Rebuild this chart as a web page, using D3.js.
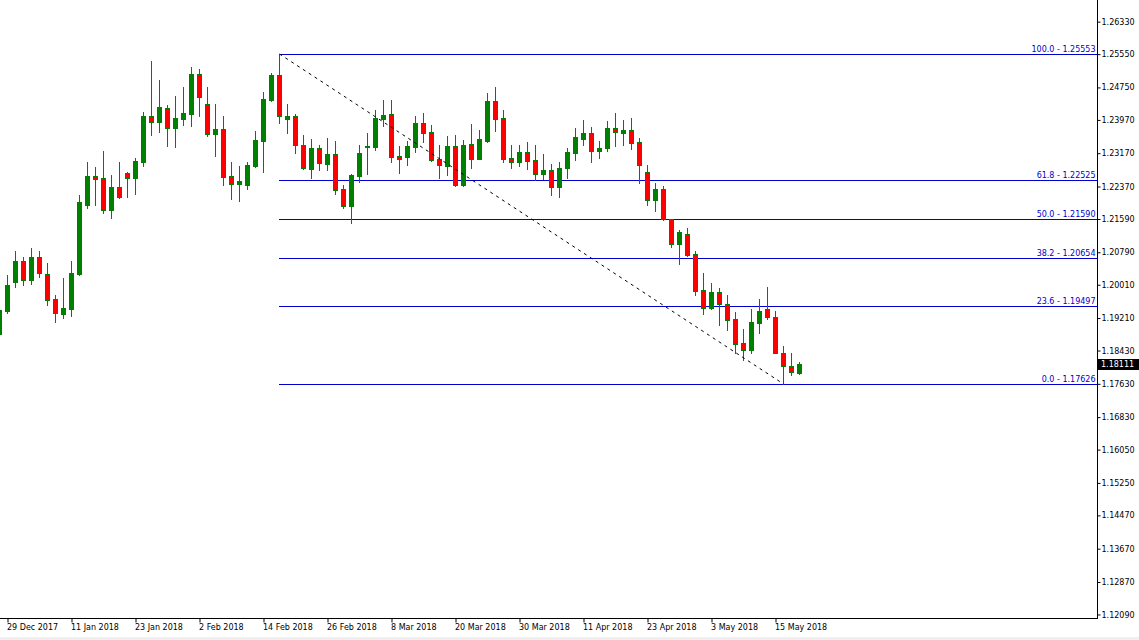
<!DOCTYPE html>
<html><head><meta charset="utf-8">
<script src="https://cdn.jsdelivr.net/npm/d3@7"></script>
<style>html,body{margin:0;padding:0;background:#fff;} svg{display:block;}</style>
</head><body>
<svg id="c" width="1139" height="640"></svg>
<script>
// ---- data ----
const dates = [
"2017-12-28","2017-12-29",
"2018-01-02","2018-01-03","2018-01-04","2018-01-05",
"2018-01-08","2018-01-09","2018-01-10","2018-01-11","2018-01-12",
"2018-01-15","2018-01-16","2018-01-17","2018-01-18","2018-01-19",
"2018-01-22","2018-01-23","2018-01-24","2018-01-25","2018-01-26",
"2018-01-29","2018-01-30","2018-01-31","2018-02-01","2018-02-02",
"2018-02-05","2018-02-06","2018-02-07","2018-02-08","2018-02-09",
"2018-02-12","2018-02-13","2018-02-14","2018-02-15","2018-02-16",
"2018-02-19","2018-02-20","2018-02-21","2018-02-22","2018-02-23",
"2018-02-26","2018-02-27","2018-02-28","2018-03-01","2018-03-02",
"2018-03-05","2018-03-06","2018-03-07","2018-03-08","2018-03-09",
"2018-03-12","2018-03-13","2018-03-14","2018-03-15","2018-03-16",
"2018-03-19","2018-03-20","2018-03-21","2018-03-22","2018-03-23",
"2018-03-26","2018-03-27","2018-03-28","2018-03-29","2018-03-30",
"2018-04-02","2018-04-03","2018-04-04","2018-04-05","2018-04-06",
"2018-04-09","2018-04-10","2018-04-11","2018-04-12","2018-04-13",
"2018-04-16","2018-04-17","2018-04-18","2018-04-19","2018-04-20",
"2018-04-23","2018-04-24","2018-04-25","2018-04-26","2018-04-27",
"2018-04-30","2018-05-01","2018-05-02","2018-05-03","2018-05-04",
"2018-05-07","2018-05-08","2018-05-09","2018-05-10","2018-05-11",
"2018-05-14","2018-05-15","2018-05-16","2018-05-17","2018-05-18"];

const open = [1.18827,1.19379,1.20076,1.20581,1.20124,1.20677,1.20268,1.19668,1.19307,1.19428,
1.20268,1.21926,1.22622,1.22574,1.21806,1.22358,1.22694,1.22574,1.22959,1.24064,
1.23919,1.24256,1.23775,1.23992,1.24112,1.25072,1.24352,1.23631,1.23751,1.22622,
1.22430,1.22406,1.22863,1.23463,1.24448,1.25048,1.23992,1.24064,1.23367,1.22790,
1.23295,1.22911,1.23151,1.22310,1.21902,1.22622,1.23319,1.23319,1.23992,1.24112,
1.23103,1.23079,1.23319,1.23895,1.23679,1.23031,1.22863,1.23343,1.22406,1.23391,
1.23031,1.23463,1.24424,1.24016,1.23055,1.22959,1.23199,1.23007,1.22670,1.22766,
1.22358,1.22814,1.23175,1.23511,1.23655,1.23223,1.23295,1.23775,1.23655,1.23727,
1.23439,1.22718,1.22046,1.22310,1.21589,1.20989,1.21229,1.20749,1.19884,1.19452,
1.19836,1.19548,1.19187,1.18611,1.18443,1.19091,1.19428,1.19235,1.18371,1.18058,
1.17890];

const high = [1.19452,1.20244,1.20821,1.20677,1.20893,1.20821,1.20532,1.19764,1.20172,1.20581,
1.22166,1.22959,1.22838,1.23223,1.22646,1.22959,1.22718,1.23055,1.24160,1.25385,
1.24933,1.24328,1.24544,1.24760,1.25241,1.25193,1.24760,1.24352,1.24064,1.22959,
1.22863,1.22959,1.23703,1.24640,1.25097,1.25553,1.24352,1.24112,1.23607,1.23511,
1.23367,1.23535,1.23463,1.22406,1.22660,1.23367,1.23655,1.24208,1.24448,1.24448,
1.23343,1.23463,1.24064,1.24136,1.23847,1.23367,1.23583,1.23607,1.23487,1.23871,
1.23727,1.24616,1.24760,1.24208,1.23367,1.23367,1.23439,1.23367,1.23151,1.22911,
1.22959,1.23295,1.23775,1.23967,1.23799,1.23463,1.23943,1.24136,1.23967,1.24016,
1.23535,1.22887,1.22454,1.22382,1.21600,1.21325,1.21373,1.20821,1.20292,1.20052,
1.19932,1.19764,1.19355,1.18947,1.19428,1.19668,1.19956,1.19379,1.18539,1.18371,
1.18154];

const low = [1.18779,1.19331,1.19956,1.20004,1.20028,1.20196,1.19524,1.19115,1.19211,1.19259,
1.20250,1.21854,1.21926,1.21734,1.21613,1.22100,1.22118,1.22190,1.22863,1.23607,
1.23679,1.23343,1.23319,1.23847,1.23823,1.24064,1.23583,1.23103,1.22406,1.22070,
1.22022,1.22310,1.22838,1.22718,1.24430,1.23895,1.23655,1.23175,1.22800,1.22574,
1.22766,1.22766,1.22190,1.21854,1.21493,1.22478,1.22670,1.23247,1.23823,1.22959,
1.22694,1.22887,1.23199,1.23439,1.22983,1.22574,1.22646,1.22382,1.22382,1.22814,
1.23020,1.23450,1.23703,1.22959,1.22814,1.22863,1.22790,1.22526,1.22550,1.22166,
1.22118,1.22574,1.23007,1.23367,1.22959,1.23055,1.23223,1.23343,1.23367,1.23271,
1.22454,1.21926,1.21782,1.21575,1.20917,1.20508,1.20710,1.19764,1.19307,1.19428,
1.19043,1.18923,1.18371,1.18202,1.18371,1.18851,1.19187,1.18360,1.17626,1.17842,
1.17866];

const close = [1.19403,1.20004,1.20581,1.20124,1.20677,1.20292,1.19644,1.19331,1.19452,1.20292,
1.21998,1.22622,1.22550,1.21806,1.22358,1.22118,1.22574,1.22983,1.24064,1.23919,
1.24280,1.23775,1.24016,1.24136,1.25072,1.24520,1.23631,1.23751,1.22598,1.22430,
1.22502,1.22887,1.23487,1.24472,1.25048,1.24064,1.24064,1.23367,1.22814,1.23295,
1.22935,1.23151,1.22286,1.21902,1.22646,1.23175,1.23343,1.24016,1.24088,1.23079,
1.23031,1.23343,1.23895,1.23655,1.23007,1.22887,1.23343,1.22406,1.23367,1.23031,
1.23511,1.24424,1.23992,1.23031,1.22959,1.23199,1.22983,1.22670,1.22766,1.22358,
1.22814,1.23199,1.23559,1.23655,1.23223,1.23295,1.23775,1.23679,1.23727,1.23415,
1.22887,1.22046,1.22310,1.21589,1.20989,1.21277,1.20725,1.19860,1.19452,1.19836,
1.19548,1.19163,1.18587,1.18443,1.19115,1.19379,1.19235,1.18371,1.18058,1.17914,
1.18111];

const yTicks = [1.26330,1.25550,1.24750,1.23970,1.23170,1.22370,1.21590,1.20790,1.20010,
1.19210,1.18430,1.17630,1.16830,1.16050,1.15250,1.14470,1.13670,1.12870,1.12090];

const xTickDates = ["2017-12-29","2018-01-11","2018-01-23","2018-02-02","2018-02-14","2018-02-26",
"2018-03-08","2018-03-20","2018-03-30","2018-04-11","2018-04-23","2018-05-03","2018-05-15"];
const xTickLabels = ["29 Dec 2017","11 Jan 2018","23 Jan 2018","2 Feb 2018","14 Feb 2018","26 Feb 2018",
"8 Mar 2018","20 Mar 2018","30 Mar 2018","11 Apr 2018","23 Apr 2018","3 May 2018","15 May 2018"];

const fibLevels = [0, 23.6, 38.2, 50, 61.8, 100];
const fibPrices = [1.17626, 1.19497, 1.20654, 1.21590, 1.22525, 1.25553];
const fibStartDate = "2018-02-16", fibEndDate = "2018-05-16";
const fibHigh = 1.25553, fibLow = 1.17626;
const lastPrice = 1.18111;

// ---- drawing ----
const plotR = 1097, plotB = 618;
const GREEN = "#008000", RED = "#ff0000", BLUE = "#0000cc";
const FONT = "'DejaVu Sans', Verdana, sans-serif";

const svg = d3.select("#c");
svg.append("rect").attr("width",1139).attr("height",640).attr("fill","#fff");
svg.append("rect").attr("x",0).attr("y",637).attr("width",1139).attr("height",3).attr("fill","#f0f0f0");

const x = d3.scalePoint().domain(dates).range([-1, 799]);
const y = d3.scaleLinear().domain([1.11957, 1.26850]).range([620, 0]);

svg.append("defs").append("clipPath").attr("id","clip")
  .append("rect").attr("x",0).attr("y",0).attr("width",plotR).attr("height",plotB);

const plot = svg.append("g").attr("clip-path","url(#clip)");

// fib lines
const fibG = plot.append("g");
fibPrices.forEach((p,i)=>{
  const yy = Math.round(y(p)) + 0.5;
  fibG.append("line").attr("x1", x(fibStartDate)).attr("x2", plotR).attr("y1", yy).attr("y2", yy)
    .attr("stroke", BLUE).attr("stroke-width",1).attr("shape-rendering","crispEdges");
  fibG.append("text").attr("x", plotR - 1.5).attr("y", yy - 3).attr("text-anchor","end")
    .attr("font-family", FONT).attr("font-size","8px").attr("fill", BLUE)
    .text(fibLevels[i].toFixed(1) + " - " + p.toFixed(5));
});

// candles
const candles = dates.map((d,i)=>({d, o:open[i], h:high[i], l:low[i], c:close[i]}));
const cg = plot.append("g");
candles.forEach(k=>{
  const cx = Math.round(x(k.d));
  const up = k.c >= k.o;
  cg.append("line").attr("x1", cx+0.5).attr("x2", cx+0.5)
    .attr("y1", Math.round(y(k.h))).attr("y2", Math.round(y(k.l))+1)
    .attr("stroke", GREEN).attr("stroke-width",1).attr("shape-rendering","crispEdges");
  const t = Math.round(y(Math.max(k.o,k.c))), b = Math.round(y(Math.min(k.o,k.c)));
  cg.append("rect").attr("x", cx-2+0.5).attr("y", t+0.5).attr("width", 4).attr("height", Math.max(0, b-t))
    .attr("fill", up ? GREEN : RED).attr("stroke", GREEN).attr("stroke-width",1)
    .attr("shape-rendering","crispEdges");
});

// dashed trend line between fib points
plot.append("line")
  .attr("x1", x(fibStartDate)+0.5).attr("y1", y(fibHigh))
  .attr("x2", x(fibEndDate)+0.5).attr("y2", y(fibLow))
  .attr("stroke","#000").attr("stroke-width",1).attr("stroke-dasharray","3,4");

// axes frame
svg.append("line").attr("x1", plotR+0.5).attr("x2", plotR+0.5).attr("y1",0).attr("y2", plotB+1)
  .attr("stroke","#000").attr("shape-rendering","crispEdges");
svg.append("line").attr("x1", 0).attr("x2", plotR+1).attr("y1",plotB+0.5).attr("y2", plotB+0.5)
  .attr("stroke","#000").attr("shape-rendering","crispEdges");

// y axis
const yAxis = d3.axisRight(y).tickValues(yTicks).tickSize(3).tickSizeOuter(0)
  .tickFormat(d3.format(".5f"));
const yg = svg.append("g").attr("transform", `translate(${plotR+0.5},0)`).call(yAxis);
yg.select(".domain").remove();
yg.selectAll("text").attr("font-family", FONT).attr("font-size","8px").attr("fill","#000").attr("x",4);
yg.selectAll("line").attr("stroke","#000");

// x axis
const xAxis = d3.axisBottom(x).tickValues(xTickDates).tickSize(4).tickSizeOuter(0)
  .tickFormat((d,i)=>xTickLabels[i]);
const xg = svg.append("g").attr("transform", `translate(0.5,${plotB+0.5})`).call(xAxis);
xg.select(".domain").remove();
xg.selectAll("text").attr("font-family", FONT).attr("font-size","8px").attr("fill","#000")
  .attr("text-anchor","start").attr("x",-1).attr("y",6).attr("dy","0.71em");
xg.selectAll(".tick line").attr("stroke","#000");

// last price marker
const ly = y(lastPrice);
svg.append("rect").attr("x", plotR+1).attr("y", Math.round(ly)-5).attr("width", 1139-plotR-1).attr("height", 11).attr("fill","#000");
svg.append("text").attr("x", plotR+4).attr("y", ly+0.5).attr("dy","0.35em")
  .attr("font-family", FONT).attr("font-size","8px").attr("fill","#fff").text(lastPrice.toFixed(5));
</script>
</body></html>
